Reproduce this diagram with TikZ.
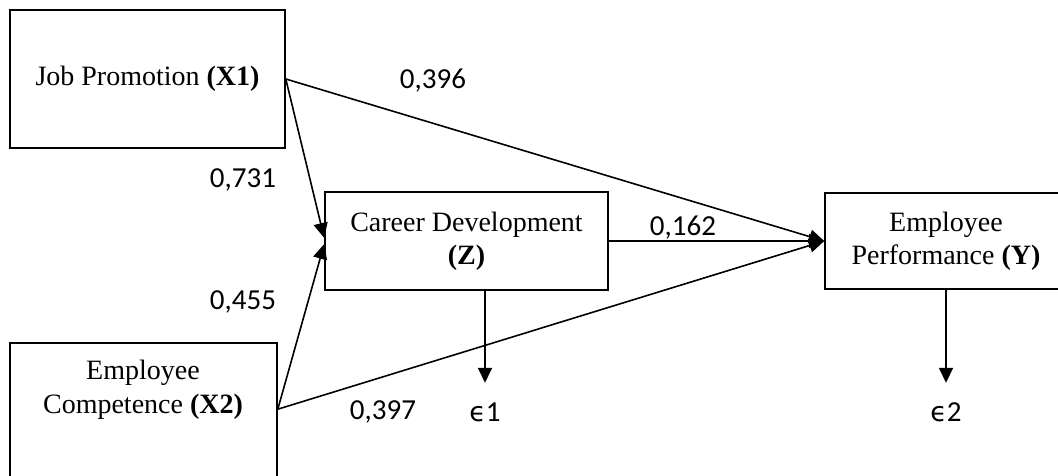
\documentclass[tikz,border=0pt]{standalone}
\usepackage{fontspec}
\setmainfont{Liberation Serif}
\newfontfamily\lblfont{Carlito}
\newfontfamily\epsfont{DejaVu Sans}
\usetikzlibrary{arrows.meta}
\begin{document}
\begin{tikzpicture}[x=1pt,y=-1pt,
  box/.style={draw,line width=1.6pt,inner sep=0pt,align=center,
    font=\fontsize{28}{33}\selectfont},
  txt/.style={inner sep=0pt,align=center,font=\fontsize{28}{34}\selectfont},
  lbl/.style={inner sep=0pt,font=\lblfont\fontsize{29}{33}\selectfont},
  err/.style={inner sep=0pt,anchor=base,text height=17pt,text depth=0pt,
    font=\lblfont\fontsize{29}{33}\selectfont},
  arr/.style={line width=1.6pt,-{Triangle[length=15pt,width=14pt]}}]
\clip (0,0) rectangle (1058,476);
\node[box,minimum width=275pt,minimum height=138pt] (x1) at (147.5,79) {Job Promotion \textbf{(X1)}};
\node[box,minimum width=283pt,minimum height=98pt] (z) at (466.5,241) {Career Development\\\textbf{(Z)}};
\node[box,minimum width=242pt,minimum height=96pt] (y) at (946,241) {Employee\\Performance \textbf{(Y)}};
\node[box,minimum width=267pt,minimum height=160pt] (x2) at (143.5,423) {};
\node[txt] (x2t) at (143,390) {Employee\\Competence \textbf{(X2)}};
\node[err] (e1) at (485,421) {{\epsfont\fontsize{27}{30}\selectfont ϵ}1};
\node[err] (e2) at (946,421) {{\epsfont\fontsize{27}{30}\selectfont ϵ}2};
\coordinate (x2o) at ([yshift=-67pt]x2.north east);
\coordinate (x1o) at (x1.east);
\draw[arr] (x1o) -- ([yshift=3pt]z.west);
\draw[arr] (x2o) -- ([yshift=-3pt]z.west);
\draw[arr] (x1o) -- (y.west);
\draw[arr] (z.east) -- (y.west);
\draw[arr] (x2o) -- (y.west);
\draw[arr] (z.south -| e1.north) -- ([yshift=21pt]e1.north);
\draw[arr] (y.south) -- ([yshift=21pt]e2.north);
\node[lbl] (l1) at (433,81) {0,396};
\node[lbl] (l2) at (243,180) {0,731};
\node[lbl] (l3) at (243,302) {0,455};
\node[lbl] (l4) at (383,412) {0,397};
\node[lbl] (l5) at (683,228) {0,162};
\end{tikzpicture}
\end{document}
